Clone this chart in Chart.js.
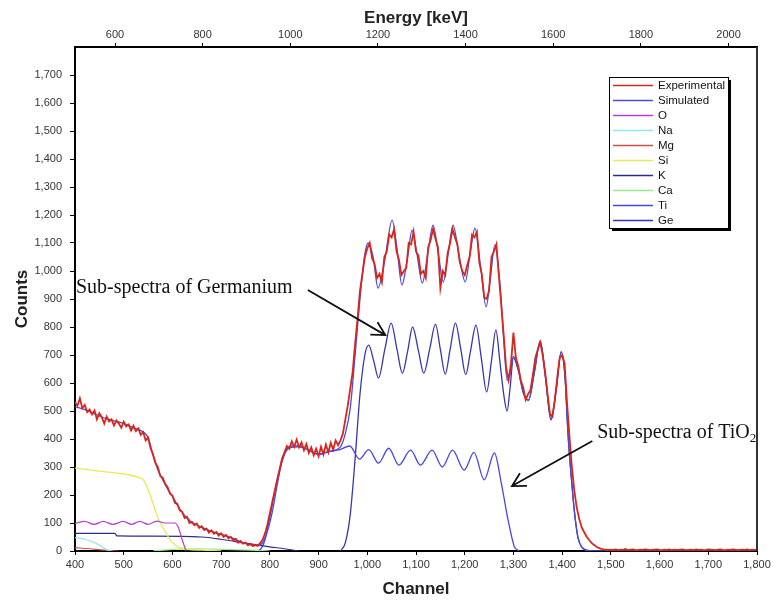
<!DOCTYPE html>
<html>
<head>
<meta charset="utf-8">
<title>RBS spectrum</title>
<script src="https://cdn.jsdelivr.net/npm/chart.js@4.4.0/dist/chart.umd.min.js"></script>
<style>
  html, body { margin: 0; padding: 0; background: #fff; }
  #wrap { width: 778px; height: 602px; position: relative; }
</style>
</head>
<body>
<div id="wrap"><canvas id="chartSpectrum"></canvas></div>
<script>
// tick labels of the three axes
const channelTicks = [400, 500, 600, 700, 800, 900, 1000, 1100, 1200, 1300, 1400, 1500, 1600, 1700, 1800];
const countTicks = [0, 100, 200, 300, 400, 500, 600, 700, 800, 900, 1000, 1100, 1200, 1300, 1400, 1500, 1600, 1700];
const energyTicks = [600, 800, 1000, 1200, 1400, 1600, 1800, 2000];

// experimental spectrum, one value every 5 channels starting at channel 400
const expStart = 400;
const expStep = 5;
const expCounts = [
  532, 518, 545, 510, 522, 496, 505, 488, 502, 470, 492, 478, 455, 480, 462, 470, 448, 466, 455, 440,
  462, 445, 452, 430, 448, 428, 438, 415, 425, 395, 405, 368, 345, 315, 300, 268, 262, 240, 228, 205,
  198, 172, 168, 145, 140, 118, 122, 100, 104, 92, 98, 82, 88, 75, 80, 66, 74, 62, 68, 55,
  63, 50, 57, 45, 50, 38, 44, 30, 36, 26, 30, 20, 26, 17, 22, 18, 28, 40, 62, 95,
  135, 175, 215, 255, 292, 330, 352, 375, 365, 392, 372, 398, 370, 388, 360, 382, 350, 370, 342, 365,
  338, 372, 345, 380, 352, 386, 362, 395, 378, 395, 420, 470, 520, 580, 640, 740, 830, 930, 990, 1050,
  1080, 1100, 1045, 1025, 975, 990, 960, 1050, 1070, 1130, 1120, 1150, 1070, 1040, 985, 1000, 1010, 1100, 1095, 1140,
  1070, 1055, 990, 1000, 975, 1085, 1110, 1150, 1115, 1085, 940, 1000, 985, 1065, 1100, 1150, 1120, 1095, 1030, 1000,
  985, 1020, 1050, 1130, 1120, 1140, 1030, 990, 905, 900, 930, 1050, 1070, 1095, 985, 880, 770, 655, 610, 670,
  780, 690, 660, 610, 585, 540, 560, 575, 630, 690, 720, 745, 700, 640, 560, 490, 480, 540, 620, 690,
  700, 670, 530, 410, 300, 215, 155, 115, 85, 68, 52, 40, 30, 22, 16, 11, 8, 6, 5, 4,
  5, 4, 6, 3, 5, 4, 7, 3, 5, 6, 4, 3, 5, 4, 6, 5, 3, 4, 5, 6,
  4, 3, 5, 4, 6, 3, 5, 4, 4, 6, 5, 3, 4, 5, 3, 6, 4, 5, 3, 4,
  6, 5, 4, 3, 5, 6, 4, 3, 5, 4, 6, 5, 3, 4, 5, 4, 6, 3, 5, 4,
  5
];

// simulated total
const simChannels = [400, 420, 440, 460, 480, 500, 520, 540,
  550, 560, 570, 580, 590, 600, 610, 620, 630, 640, 650, 660,
  680, 700, 720, 740, 760,
  775, 785, 795, 805, 815, 825, 835, 845,
  860, 880, 900, 920,
  944, 955, 965, 975, 985, 995,
  1002, 1012, 1022, 1036,
  1051, 1061, 1071, 1082, 1092, 1102, 1113, 1124, 1135, 1146, 1156, 1166, 1176, 1188, 1201, 1211, 1221, 1233, 1244, 1253, 1262,
  1272, 1280, 1287, 1293, 1300, 1310, 1320, 1331, 1343, 1355, 1366, 1377, 1388, 1398, 1406, 1412, 1418, 1423, 1428, 1433, 1440, 1450, 1460, 1800];
const simCounts = [515, 505, 490, 475, 465, 455, 440, 425,
  405, 345, 290, 255, 222, 195, 165, 138, 118, 102, 93, 85,
  70, 60, 48, 33, 22,
  19, 30, 70, 140, 235, 320, 365, 375,
  375, 360, 345, 355,
  370, 420, 510, 700, 900, 1060,
  1100, 1050, 939, 1040,
  1182, 1080, 950, 1040, 1146, 1060, 957, 1060, 1164, 1060, 961, 1060, 1164, 1060, 961, 1060, 1153, 1010, 872, 980, 1093,
  960, 760, 610, 630, 695, 650, 570, 540, 640, 750, 620, 470, 580, 712, 620, 420, 280, 180, 100, 45, 15, 3, 0, 0];

// element sub-spectra
const oChannels = [400, 420, 439, 458, 478, 499, 516, 533, 550, 568, 585, 605, 612, 620, 628];
const oCounts = [98, 106, 95, 106, 95, 106, 95, 106, 95, 107, 100, 100, 85, 40, 0];

const naChannels = [400, 420, 440, 455, 465, 475];
const naCounts = [48, 42, 30, 15, 5, 0];

const mgChannels = [400, 430, 460, 490];
const mgCounts = [12, 8, 3, 0];

const siChannels = [400, 450, 500, 530, 540, 550, 560, 570, 580, 590, 600, 615, 630, 660, 700];
const siCounts = [296, 285, 275, 263, 255, 220, 170, 120, 85, 55, 30, 12, 6, 3, 0];

const kChannels = [400, 482, 486, 560, 660, 700, 750, 800, 830, 860];
const kCounts = [63, 63, 54, 53, 50, 42, 28, 15, 8, 0];

const caChannels = [560, 600, 650, 700, 760, 800];
const caCounts = [0, 6, 8, 6, 3, 0];

const tiChannels = [770, 780, 790, 800, 810, 820, 830, 840, 860, 880, 900, 920,
  944, 964, 984, 1003, 1023, 1044, 1065, 1089, 1109, 1133, 1154, 1175, 1199, 1219, 1240, 1261,
  1275, 1289, 1302, 1312];
const tiCounts = [0, 5, 40, 120, 210, 290, 345, 368, 372, 360, 345, 355,
  362, 375, 328, 362, 314, 367, 307, 360, 307, 360, 300, 360, 289, 352, 254, 350,
  243, 111, 15, 0];

const geChannels = [945, 955, 965, 975, 985, 995, 1003,
  1013, 1023, 1036, 1049, 1061, 1072, 1083, 1093, 1105, 1116, 1128, 1140, 1150, 1160, 1170, 1181, 1192, 1202, 1212, 1223, 1234, 1245, 1255, 1264,
  1272, 1280, 1287, 1293, 1300, 1310,
  1320, 1331, 1343, 1355, 1366, 1377, 1388, 1398, 1406, 1412, 1418, 1423, 1428, 1433, 1440, 1450, 1460];
const geCounts = [0, 30, 130, 330, 560, 700, 735,
  680, 618, 720, 814, 720, 635, 715, 800, 715, 635, 720, 810, 720, 632, 720, 814, 720, 630, 715, 807, 690, 568, 680, 790,
  680, 560, 500, 580, 690, 645,
  565, 538, 638, 748, 618, 468, 578, 710, 618, 418, 278, 178, 98, 44, 14, 3, 0];

// the two notes with their arrows, in channel / counts units
const geNote = { text: 'Sub-spectra of Germanium', at: [402, 921], from: [878, 932], to: [1037, 771] };
const tiNote = { text: 'Sub-spectra of TiO', sub: '2', at: [1472, 404], from: [1462, 393], to: [1297, 232] };

function pontos(xs, ys) {
  return xs.map((x, i) => ({ x: x, y: ys[i] }));
}

function serie(label, pts, cor, largura, suave) {
  return {
    label: label,
    data: pts,
    borderColor: cor,
    backgroundColor: cor,
    borderWidth: largura,
    pointRadius: 0,
    fill: false,
    tension: 0,
    cubicInterpolationMode: suave ? 'monotone' : 'default',
    xAxisID: 'x',
    yAxisID: 'y'
  };
}

const expPoints = expCounts.map((v, i) => ({ x: expStart + i * expStep, y: v }));

// legend in a box with the black shadow, like the original
const boxLegend = {
  id: 'boxLegend',
  afterDraw(chart) {
    const { ctx, chartArea } = chart;
    const left = chartArea.right - 148;
    const top = chartArea.top + 30;
    const w = 119, h = 151;
    ctx.save();
    ctx.fillStyle = '#000';
    ctx.fillRect(left + 3, top + 3, w, h);
    ctx.fillStyle = '#fff';
    ctx.fillRect(left, top, w, h);
    ctx.strokeStyle = '#000';
    ctx.lineWidth = 1;
    ctx.strokeRect(left + 0.5, top + 0.5, w, h);
    ctx.font = '11.5px "Liberation Sans", Arial, sans-serif';
    ctx.textBaseline = 'middle';
    chart.data.datasets.forEach((ds, i) => {
      const y = top + 8.5 + i * 15;
      ctx.strokeStyle = ds.borderColor;
      ctx.lineWidth = 1.5;
      ctx.beginPath();
      ctx.moveTo(left + 4, y);
      ctx.lineTo(left + 44, y);
      ctx.stroke();
      ctx.fillStyle = '#111';
      ctx.fillText(ds.label, left + 49, y);
    });
    ctx.restore();
  }
};

function seta(ctx, x0, y0, x1, y1) {
  const ang = Math.atan2(y1 - y0, x1 - x0);
  const len = 15;
  ctx.beginPath();
  ctx.moveTo(x0, y0);
  ctx.lineTo(x1, y1);
  ctx.moveTo(x1 - len * Math.cos(ang - 0.5), y1 - len * Math.sin(ang - 0.5));
  ctx.lineTo(x1, y1);
  ctx.lineTo(x1 - len * Math.cos(ang + 0.5), y1 - len * Math.sin(ang + 0.5));
  ctx.stroke();
}

// notes + right side of the frame
const notes = {
  id: 'notes',
  afterDatasetsDraw(chart) {
    const { ctx, chartArea } = chart;
    const sx = chart.scales.x, sy = chart.scales.y;
    ctx.save();
    ctx.strokeStyle = '#333';
    ctx.lineWidth = 2;
    ctx.beginPath();
    ctx.moveTo(chartArea.right, chartArea.top);
    ctx.lineTo(chartArea.right, chartArea.bottom);
    ctx.stroke();

    ctx.fillStyle = '#111';
    ctx.strokeStyle = '#111';
    ctx.lineWidth = 1.8;
    ctx.textBaseline = 'alphabetic';
    ctx.font = '20px "Liberation Serif", "Times New Roman", serif';

    ctx.fillText(geNote.text, sx.getPixelForValue(geNote.at[0]), sy.getPixelForValue(geNote.at[1]));
    seta(ctx, sx.getPixelForValue(geNote.from[0]), sy.getPixelForValue(geNote.from[1]),
      sx.getPixelForValue(geNote.to[0]), sy.getPixelForValue(geNote.to[1]));

    const tx = sx.getPixelForValue(tiNote.at[0]);
    const ty = sy.getPixelForValue(tiNote.at[1]);
    ctx.fillText(tiNote.text, tx, ty);
    const wMain = ctx.measureText(tiNote.text).width;
    ctx.font = '13px "Liberation Serif", "Times New Roman", serif';
    ctx.fillText(tiNote.sub, tx + wMain, ty + 4);
    seta(ctx, sx.getPixelForValue(tiNote.from[0]), sy.getPixelForValue(tiNote.from[1]),
      sx.getPixelForValue(tiNote.to[0]), sy.getPixelForValue(tiNote.to[1]));
    ctx.restore();
  }
};

document.addEventListener('DOMContentLoaded', () => {
  Chart.defaults.font.family = '"Liberation Sans", Arial, sans-serif';
  Chart.defaults.color = '#333';

  const ctxSpectrum = document.getElementById('chartSpectrum');

  const tickGrid = { display: true, drawOnChartArea: false, drawTicks: true, tickLength: 4, color: '#000' };
  const axisBorder = { display: true, color: '#000', width: 2 };
  const titleFont = { size: 17, weight: 'bold' };

  new Chart(ctxSpectrum, {
    type: 'line',
    data: {
      datasets: [
        serie('Experimental', expPoints, '#d9261c', 1.8, false),
        serie('Simulated', pontos(simChannels, simCounts), '#4b4bdc', 1.3, true),
        serie('O', pontos(oChannels, oCounts), '#b040d8', 1.2, true),
        serie('Na', pontos(naChannels, naCounts), '#8ee8f0', 1.2, true),
        serie('Mg', pontos(mgChannels, mgCounts), '#c8504a', 1.2, true),
        serie('Si', pontos(siChannels, siCounts), '#e8e85a', 1.3, true),
        serie('K', pontos(kChannels, kCounts), '#2e2e86', 1.2, true),
        serie('Ca', pontos(caChannels, caCounts), '#96ec8c', 1.2, true),
        serie('Ti', pontos(tiChannels, tiCounts), '#4646e6', 1.3, true),
        serie('Ge', pontos(geChannels, geCounts), '#3636b4', 1.3, true)
      ]
    },
    options: {
      responsive: true,
      maintainAspectRatio: false,
      animation: false,
      devicePixelRatio: 1,
      locale: 'en-US',
      layout: { padding: { left: 0, right: 21, top: 0, bottom: 0 } },
      plugins: {
        legend: { display: false },
        tooltip: { enabled: false }
      },
      scales: {
        x: {
          type: 'linear',
          position: 'bottom',
          min: 400,
          max: 1800,
          afterBuildTicks: (s) => { s.ticks = channelTicks.map(v => ({ value: v })); },
          afterFit: (s) => { s.height = 51; },
          ticks: {
            autoSkip: false,
            maxRotation: 0,
            padding: 3,
            font: { size: 11 },
            callback: (v) => v.toLocaleString('en-US')
          },
          grid: tickGrid,
          border: axisBorder,
          title: { display: true, text: 'Channel', font: titleFont, color: '#222', padding: { top: 0, bottom: 2 } }
        },
        x2: {
          type: 'linear',
          position: 'top',
          min: 508.7,
          max: 2065,
          afterBuildTicks: (s) => { s.ticks = energyTicks.map(v => ({ value: v })); },
          afterFit: (s) => { s.height = 47; },
          ticks: {
            autoSkip: false,
            maxRotation: 0,
            padding: 1,
            font: { size: 11 },
            callback: (v) => String(v)
          },
          grid: tickGrid,
          border: axisBorder,
          title: { display: true, text: 'Energy [keV]', font: titleFont, color: '#222', padding: { top: 8, bottom: 0 } }
        },
        y: {
          type: 'linear',
          position: 'left',
          min: 0,
          max: 1800,
          afterBuildTicks: (s) => { s.ticks = countTicks.map(v => ({ value: v })); },
          afterFit: (s) => { s.width = 75; },
          ticks: {
            autoSkip: false,
            padding: 8,
            font: { size: 11 },
            callback: (v) => v.toLocaleString('en-US')
          },
          grid: { display: true, drawOnChartArea: false, drawTicks: true, tickLength: 5, color: '#000' },
          border: axisBorder,
          title: { display: true, text: 'Counts', font: titleFont, color: '#222', padding: { top: 12, bottom: 0 } }
        }
      }
    },
    plugins: [notes, boxLegend]
  });
});
</script>
</body>
</html>
